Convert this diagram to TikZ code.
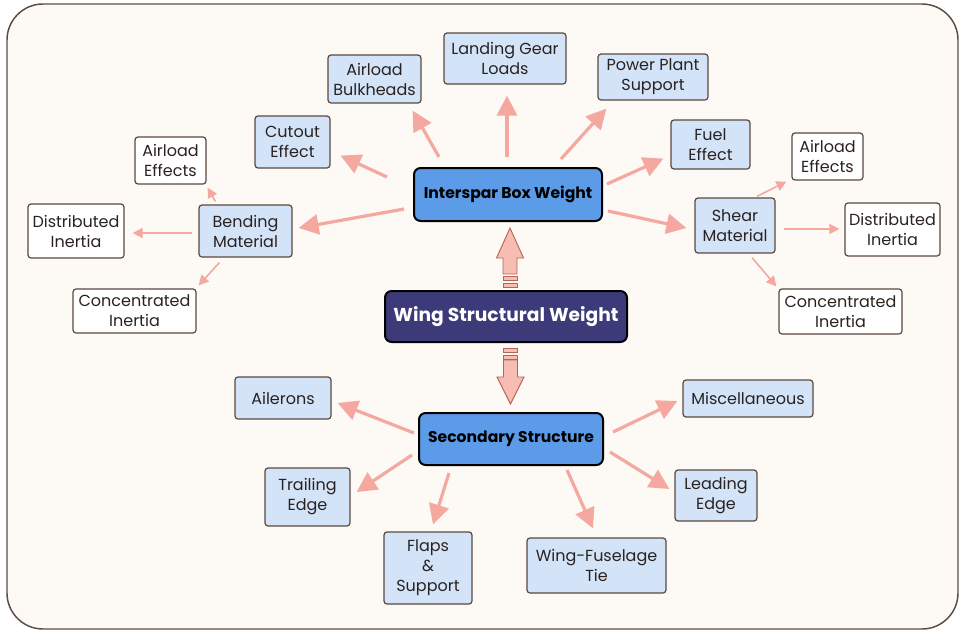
\documentclass[tikz,border=0pt]{standalone}
\usepackage{fontspec}
\setmainfont{Poppins}
\usetikzlibrary{arrows.meta,calc}
\definecolor{bg}{HTML}{FDFAF5}
\definecolor{frame}{HTML}{5E4C44}
\definecolor{midblue}{HTML}{5B9BE8}
\definecolor{lightblue}{HTML}{D3E3F8}
\definecolor{navy}{HTML}{3D3A7A}
\definecolor{boxline}{HTML}{5A4840}
\definecolor{txt}{HTML}{2A2220}
\definecolor{pink}{HTML}{F4A8A0}
\definecolor{blockfill}{HTML}{F7BCB2}
\definecolor{blockline}{HTML}{B8645A}
\tikzset{
  sz/.style n args={2}{minimum width=#1*0.75pt, minimum height=#2*0.75pt},
  mainbox/.style={draw=black, line width=1.5pt, rounded corners=5pt, fill=midblue, inner sep=0pt, font=\fontsize{11.7}{14}\selectfont\bfseries, text=black},
  navybox/.style={draw=black, line width=1.5pt, rounded corners=5pt, fill=navy, inner sep=0pt, font=\fontsize{14}{16}\selectfont\bfseries, text=white},
  lbbox/.style={draw=boxline, line width=0.9pt, rounded corners=2.25pt, fill=lightblue, inner sep=0pt, align=center, text=txt, font=\fontsize{12}{15}\selectfont},
  wbox/.style={draw=boxline, line width=0.9pt, rounded corners=2.25pt, fill=white, inner sep=0pt, align=center, text=txt, font=\fontsize{12}{15}\selectfont},
  bigarr/.style={draw=pink, line width=2.4pt, -{Triangle[length=15pt,width=15pt]}},
  smallarr/.style={draw=pink, line width=1.2pt, -{Triangle[length=7.5pt,width=7.5pt]}},
  blockarr/.style={draw=blockline, line width=0.7pt, fill=blockfill, line join=miter},
}
\begin{document}
\begin{tikzpicture}[x=0.75pt,y=-0.75pt]
\useasboundingbox (0,0) rectangle (960,632);
\fill[white] (0,0) rectangle (960,632);
\draw[frame, line width=1.1pt, fill=bg, rounded corners=27pt] (7,4) rectangle (958,629);

% central nodes
\node[mainbox, sz={188}{53}] (isb) at (508,194.5) {Interspar Box Weight};
\node[navybox, sz={242}{51}] (wsw) at (506,316.5) {Wing Structural Weight};
\node[mainbox, sz={184}{52}] (sec) at (511,439) {Secondary Structure};

% top light blue boxes
\node[lbbox, sz={93}{48}] (bulk) at (374.5,79) {Airload\\Bulkheads};
\node[lbbox, sz={122}{51}] (land) at (505,58.5) {Landing Gear\\Loads};
\node[lbbox, sz={110}{46}] (power) at (653,77) {Power Plant\\Support};
\node[lbbox, sz={75}{52}] (cut) at (292.5,142) {Cutout\\Effect};
\node[lbbox, sz={79}{49}] (fuel) at (710.5,144.5) {Fuel\\Effect};
\node[lbbox, sz={80}{55}] (shear) at (735,225.5) {Shear\\Material};
\node[lbbox, sz={93}{52}] (bend) at (245.5,231) {Bending\\Material};

% white boxes
\node[wbox, sz={71}{47}] (aeL) at (170.5,160.5) {Airload\\Effects};
\node[wbox, sz={96}{54}] (diL) at (76,231) {Distributed\\Inertia};
\node[wbox, sz={123}{44}] (ciL) at (134.5,311) {Concentrated\\Inertia};
\node[wbox, sz={71}{47}] (aeR) at (827.5,156.5) {Airload\\Effects};
\node[wbox, sz={95}{53}] (diR) at (892.5,229.5) {Distributed\\Inertia};
\node[wbox, sz={123}{45}] (ciR) at (840.5,311.5) {Concentrated\\Inertia};

% bottom boxes
\node[lbbox, sz={96}{42}] (ail) at (283,398) {Ailerons};
\node[lbbox, sz={85}{58}] (trail) at (307.5,497) {Trailing\\Edge};
\node[lbbox, sz={88}{72}] (flaps) at (428,568) {Flaps\\\&\\Support};
\node[lbbox, sz={130}{37}] (misc) at (748,398.5) {Miscellaneous};
\node[lbbox, sz={82}{51}] (lead) at (716,495.5) {Leading\\Edge};
\node[lbbox, sz={139}{55}] (wft) at (596.5,565.5) {Wing-Fuselage\\Tie};

% primary arrows from Interspar Box Weight
\draw[bigarr] ($(isb.west)+(-26,-17.5)$) -- ($(cut.south east)+(10,-13)$);
\draw[bigarr] ($(isb.north west)+(26,-10)$) -- ($(bulk.south east)+(-9,7)$);
\draw[bigarr] ($(isb.north)+(-1,-10)$) -- ($(land.south)+(2,11)$);
\draw[bigarr] ($(isb.north)+(53,-8)$) -- ($(power.south west)+(9,8)$);
\draw[bigarr] ($(isb.east)+(4,-10.5)$) -- ($(fuel.south west)+(-7,-11)$);
\draw[bigarr] ($(isb.east)+(5,16.5)$) -- ($(shear.west)+(-8,2.5)$);
\draw[bigarr] ($(isb.west)+(-9,14.5)$) -- ($(bend.east)+(6,-3)$);

% secondary arrows from Bending Material
\draw[smallarr] ($(bend.north west)+(17,-3)$) -- ($(aeL.south east)+(1,3)$);
\draw[smallarr] ($(bend.west)+(-6,2)$) -- ($(diL.east)+(8,2)$);
\draw[smallarr] ($(bend.south west)+(21,5)$) -- ($(ciL.north east)+(2,-3)$);

% secondary arrows from Shear Material
\draw[smallarr] ($(shear.north)+(22,-1)$) -- ($(aeR.south west)+(-5,1)$);
\draw[smallarr] ($(shear.east)+(8,3.5)$) -- ($(diR.west)+(-5,-0.5)$);
\draw[smallarr] ($(shear.south)+(17,4)$) -- ($(ciR.north west)+(-2,-2)$);

% arrows from Secondary Structure
\draw[bigarr] ($(sec.west)+(-4,-6)$) -- ($(ail.east)+(6,5)$);
\draw[bigarr] ($(sec.west)+(-6,16)$) -- ($(trail.east)+(6,-5)$);
\draw[bigarr] ($(sec.south west)+(31,7)$) -- ($(flaps.north)+(5,-7)$);
\draw[bigarr] ($(sec.east)+(9,-7)$) -- ($(misc.west)+(-5,2.5)$);
\draw[bigarr] ($(sec.east)+(6,13)$) -- ($(lead.west)+(-5,-6.5)$);
\draw[bigarr] ($(sec.south)+(56,4)$) -- ($(wft.north)+(-3.5,-9)$);

% block arrow up (Wing Structural Weight -> Interspar Box Weight)
\draw[blockarr] ($(isb.south)+(2,6)$) -- ++(13.5,30) -- ++(-6.5,0) -- ++(0,16) -- ++(-14,0) -- ++(0,-16) -- ++(-6.5,0) -- cycle;
\draw[blockarr] ($(isb.south)+(-5,54)$) rectangle ++(14,4);
\draw[blockarr] ($(isb.south)+(-5,61)$) rectangle ++(14,4);

% block arrow down (Wing Structural Weight -> Secondary Structure)
\draw[blockarr] ($(wsw.south)+(-3,5)$) rectangle ++(14,4);
\draw[blockarr] ($(wsw.south)+(-3,12)$) rectangle ++(14,4);
\draw[blockarr] ($(sec.north)+(-0.5,-8)$) -- ++(13.5,-27) -- ++(-6.5,0) -- ++(0,-17) -- ++(-14,0) -- ++(0,17) -- ++(-6.5,0) -- cycle;
\end{tikzpicture}
\end{document}
